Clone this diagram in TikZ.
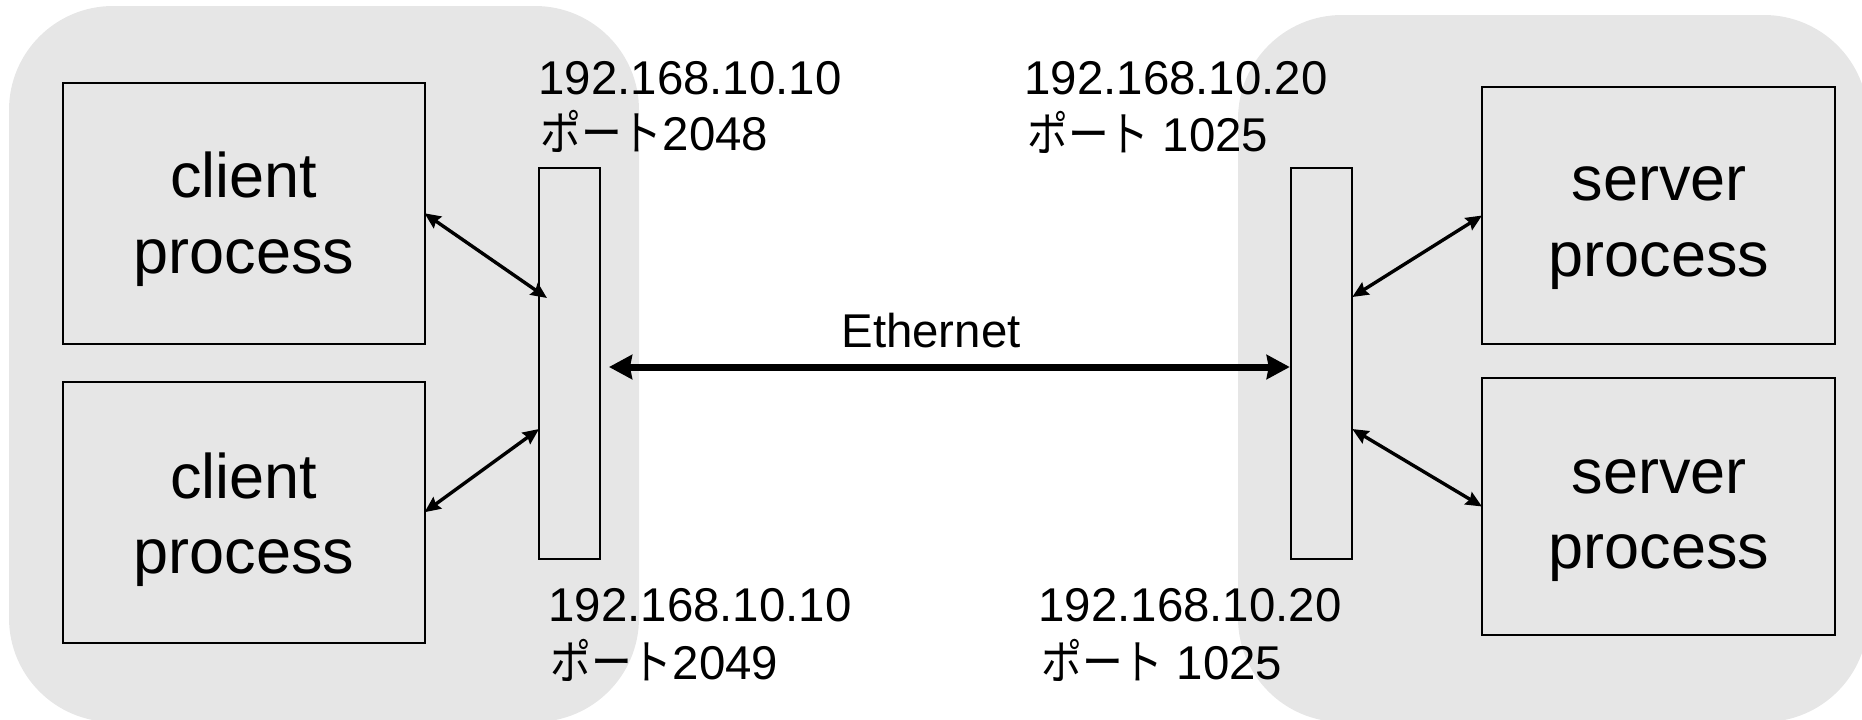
\documentclass[tikz,border=0pt]{standalone}
\usepackage{fontspec}
\usepackage{graphicx}
\setmainfont{Liberation Sans}
\newfontfamily\jpfont{Noto Sans CJK JP}
\usetikzlibrary{arrows.meta,calc}
\definecolor{panelgray}{RGB}{230,230,230}
\newcommand{\portword}{{\jpfont\scalebox{0.86}[1]{ポート}}}
\begin{document}
\begin{tikzpicture}[x=0.5pt,y=-0.5pt,
  panel/.style={fill=panelgray, draw=none, rounded corners=52pt},
  procbox/.style={draw, line width=1pt, inner sep=0pt, outer sep=0pt},
  proctext/.style={font=\fontsize{31.5}{37.75}\selectfont, align=center, inner sep=0pt},
  portbar/.style={draw, line width=1pt, inner sep=0pt, outer sep=0pt, minimum width=30.5pt, minimum height=195.5pt},
  addr/.style={font=\fontsize{23.7}{28}\selectfont, anchor=base west, inner sep=0pt},
  link/.style={line width=1.7pt, {Stealth[length=8pt,width=7pt,inset=1pt]}-{Stealth[length=8pt,width=7pt,inset=1pt]}},
  ether/.style={line width=3.5pt, {Stealth[length=11.5pt,width=12pt,inset=1pt]}-{Stealth[length=11.5pt,width=12pt,inset=1pt]}}]
\useasboundingbox (0,0) rectangle (1862,719);
\clip (0,0) rectangle (1862,719);
% panels
\path[panel] (9,6) rectangle (639,722);
\path[panel] (1238,15) rectangle (1868,722);
% process boxes
\node[procbox, minimum width=180.75pt, minimum height=130.25pt] (c1) at (243.75,213.25) {};
\node[procbox, minimum width=180.75pt, minimum height=130.25pt] (c2) at (243.75,512.25) {};
\node[procbox, minimum width=176.5pt, minimum height=128.5pt] (s1) at (1658.5,215.5) {};
\node[procbox, minimum width=176.5pt, minimum height=128.5pt] (s2) at (1658.5,506.5) {};
\node[proctext] (c1t) at (244,219) {client\\process};
\node[proctext] (c2t) at (244,519.5) {client\\process};
\node[proctext] (s1t) at (1659,228) {server\\process};
\node[proctext] (s2t) at (1659,520.5) {server\\process};
% port bars
\node[portbar] (lbar) at (569.5,363.5) {};
\node[portbar] (rbar) at (1321.75,363.5) {};
% addresses
\node[addr] (ipl1) at (538,94) {192.168.10.10};
\node[addr] (ptl1) at (540,150) {\portword2048};
\node[addr] (ipl2) at (548,621.5) {192.168.10.10};
\node[addr] (ptl2) at (550,679) {\portword2049};
\node[addr] (ipr1) at (1024,94) {192.168.10.20};
\node[addr] (ptr1) at (1027,151) {\portword\ 1025};
\node[addr] (ipr2) at (1038,621.5) {192.168.10.20};
\node[addr] (ptr2) at (1041,679) {\portword\ 1025};
\node[addr] (eth) at (841,347) {Ethernet};
% connectors
\draw[link] (c1.east) -- ($(lbar.north west)+(8,130)$);
\draw[link] (c2.east) -- ($(lbar.north west)+(0,261)$);
\draw[link] (s1.west) -- ($(rbar.north east)+(0,129)$);
\draw[link] (s2.west) -- ($(rbar.north east)+(0,261)$);
\draw[ether] ($(lbar.east)+(9,3.5)$) -- ($(rbar.west)+(-1.5,3.5)$);
\end{tikzpicture}
\end{document}
